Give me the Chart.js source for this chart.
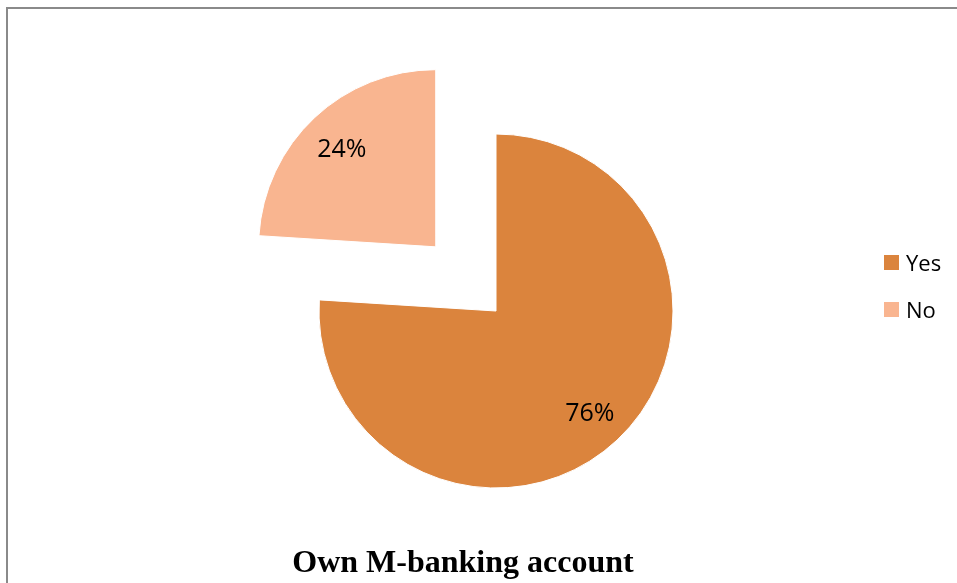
<!DOCTYPE html>
<html>
<head>
<meta charset="utf-8">
<script src="https://cdn.jsdelivr.net/npm/chart.js@4"></script>
<style>
    html, body {
        margin: 0;
        padding: 0;
        background: #fff;
    }
    #wrap {
        position: relative;
        width: 957px;
        height: 583px;
        overflow: hidden;
    }
    #frame {
        position: absolute;
        left: 6px;
        top: 7px;
        right: -10px;
        bottom: -10px;
        border-left: 2px solid #8a8a8a;
        border-top: 2px solid #8a8a8a;
    }
    #mChart {
        position: absolute;
        left: 0;
        top: 0;
    }
    .legend-item {
        position: absolute;
        left: 884px;
        font-family: "Open Sans", sans-serif;
        font-size: 22px;
        color: #000;
        line-height: 24px;
        height: 24px;
    }
    .legend-item span.box {
        position: absolute;
        left: 0;
        top: 4px;
        width: 15px;
        height: 15px;
    }
    .legend-item span.txt {
        position: absolute;
        left: 22px;
        top: -1px;
        white-space: nowrap;
    }
    #title {
        position: absolute;
        left: 0;
        width: 926px;
        top: 543px;
        text-align: center;
        font-family: "Liberation Serif", "Times New Roman", serif;
        font-weight: bold;
        font-size: 32px;
        color: #000;
    }
</style>
</head>
<body>
<div id="wrap">
    <div id="frame"></div>
    <canvas id="mChart" width="957" height="583"></canvas>
    <div id="legend"></div>
    <div id="title">Own M-banking account</div>
</div>
<script>
// Survey answers
const answers = ['Yes', 'No'];
const shares = [76, 24];
const sliceColors = ['#db843d', '#f9b590'];
// "No" is pulled out from the pie (Chart.js draws offset / 4)
const sliceOffsets = [0, 352];

// Percent labels inside each slice
const sliceLabels = {
    id: 'sliceLabels',
    afterDatasetsDraw(chart) {
        const ctx = chart.ctx;
        const meta = chart.getDatasetMeta(0);
        ctx.save();
        ctx.font = '25px "Open Sans", sans-serif';
        ctx.fillStyle = '#000';
        ctx.textAlign = 'center';
        ctx.textBaseline = 'middle';
        meta.data.forEach((arc, i) => {
            const p = arc.getProps(['x', 'y', 'startAngle', 'endAngle', 'outerRadius']);
            const mid = (p.startAngle + p.endAngle) / 2;
            const shift = (arc.options.offset || 0) / 4;
            const dist = p.outerRadius * 0.775 + shift;
            ctx.fillText(shares[i] + '%', p.x + Math.cos(mid) * dist, p.y + Math.sin(mid) * dist + 3);
        });
        ctx.restore();
    }
};

const ctx = document.getElementById('mChart').getContext('2d');
new Chart(ctx, {
    type: 'pie',
    data: {
        labels: answers,
        datasets: [{
            data: shares,
            backgroundColor: sliceColors,
            borderColor: '#ffffff',
            borderWidth: 1,
            offset: sliceOffsets
        }]
    },
    options: {
        responsive: false,
        animation: false,
        radius: 177,
        layout: {
            padding: { left: 35, top: 39, right: 0, bottom: 0 }
        },
        plugins: {
            legend: { display: false },
            tooltip: { enabled: false }
        }
    },
    plugins: [sliceLabels]
});

// Legend on the right
const legend = document.getElementById('legend');
const legendTops = [251, 298];
answers.forEach((name, i) => {
    const item = document.createElement('div');
    item.className = 'legend-item';
    item.style.top = legendTops[i] + 'px';
    item.innerHTML = '<span class="box" style="background:' + sliceColors[i] + '"></span><span class="txt">' + name + '</span>';
    legend.appendChild(item);
});
</script>
</body>
</html>
